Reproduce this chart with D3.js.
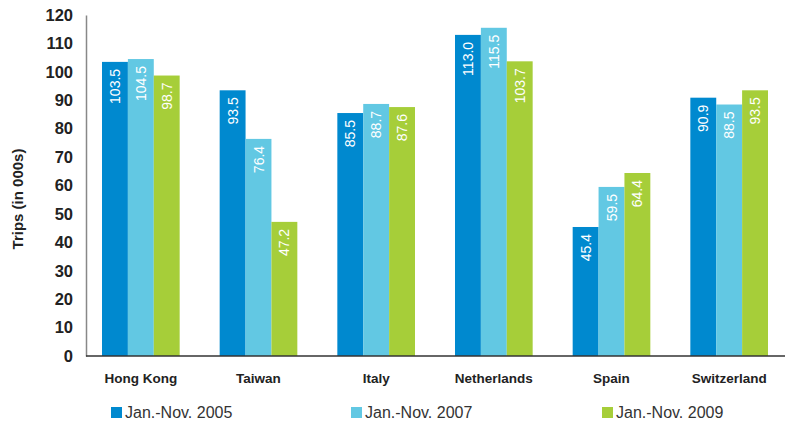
<!DOCTYPE html>
<html>
<head>
<meta charset="utf-8">
<script src="https://cdn.jsdelivr.net/npm/d3@7"></script>
<style>
  body { margin: 0; background: #fff; }
  svg { display: block; }
</style>
</head>
<body>
<div id="chart"></div>
<script>
// Data
const countries = ["Hong Kong", "Taiwan", "Italy", "Netherlands", "Spain", "Switzerland"];
const seriesNames = ["Jan.-Nov. 2005", "Jan.-Nov. 2007", "Jan.-Nov. 2009"];
const values2005 = [103.5, 93.5, 85.5, 113.0, 45.4, 90.9];
const values2007 = [104.5, 76.4, 88.7, 115.5, 59.5, 88.5];
const values2009 = [98.7, 47.2, 87.6, 103.7, 64.4, 93.5];
const yTicks = [0, 10, 20, 30, 40, 50, 60, 70, 80, 90, 100, 110, 120];

const colors = ["#0089cf", "#62c8e3", "#a6ce39"];
const allSeries = [values2005, values2007, values2009];

const width = 785, height = 425;
const FONT = "'Liberation Sans', Arial, Helvetica, sans-serif";

const svg = d3.select("#chart").append("svg")
    .attr("width", width)
    .attr("height", height);

// Scales
const x0 = d3.scaleBand().domain(countries).range([82, 788])
    .paddingInner(0.34).paddingOuter(0.17);
const x1 = d3.scaleBand().domain(d3.range(seriesNames.length)).range([0, x0.bandwidth()]);
const y = d3.scaleLinear().domain([0, 120]).range([356, 15]);

// Y axis (no ticks, labels only)
const yAxis = d3.axisLeft(y).tickValues(yTicks).tickSize(0).tickPadding(13);
const yG = svg.append("g").attr("transform", "translate(86,0)").call(yAxis);
yG.select(".domain").attr("stroke", "#888").attr("stroke-width", 1.5);
yG.selectAll("text")
    .attr("font-family", FONT)
    .attr("font-size", 16.5)
    .attr("font-weight", "bold")
    .attr("fill", "#222");

// Bars
const groups = svg.append("g").selectAll("g")
    .data(countries)
    .join("g")
    .attr("transform", d => `translate(${x0(d)},0)`);

groups.each(function (c, ci) {
    const g = d3.select(this);
    allSeries.forEach((vals, si) => {
        const v = vals[ci];
        g.append("rect")
            .attr("x", x1(si))
            .attr("y", y(v))
            .attr("width", x1.bandwidth())
            .attr("height", y(0) - y(v))
            .attr("fill", colors[si]);
        const cx = x1(si) + x1.bandwidth() / 2;
        const ty = y(v) + 7;
        g.append("text")
            .attr("transform", `translate(${cx + 5},${ty}) rotate(-90)`)
            .attr("text-anchor", "end")
            .attr("font-family", FONT)
            .attr("font-size", 14)
            .attr("fill", "#fff")
            .text(v.toFixed(1));
    });
});

// X axis baseline
svg.append("line")
    .attr("x1", 86).attr("x2", 785)
    .attr("y1", y(0)).attr("y2", y(0))
    .attr("stroke", "#333").attr("stroke-width", 1.5);

// Category labels
svg.append("g").selectAll("text")
    .data(countries)
    .join("text")
    .attr("x", d => x0(d) + x0.bandwidth() / 2)
    .attr("y", 383)
    .attr("text-anchor", "middle")
    .attr("font-family", FONT)
    .attr("font-size", 13.5)
    .attr("font-weight", "bold")
    .attr("fill", "#222")
    .text(d => d);

// Y axis title
svg.append("text")
    .attr("transform", "translate(23,199) rotate(-90)")
    .attr("text-anchor", "middle")
    .attr("font-family", FONT)
    .attr("font-size", 15)
    .attr("font-weight", "bold")
    .attr("fill", "#222")
    .text("Trips (in 000s)");

// Legend
const legendX = [111, 351, 602];
const legend = svg.append("g").selectAll("g")
    .data(seriesNames)
    .join("g")
    .attr("transform", (d, i) => `translate(${legendX[i]},407)`);
legend.append("rect")
    .attr("width", 11).attr("height", 11)
    .attr("fill", (d, i) => colors[i]);
legend.append("text")
    .attr("x", 14).attr("y", 11)
    .attr("font-family", FONT)
    .attr("font-size", 16)
    .attr("fill", "#333")
    .text(d => d);
</script>
</body>
</html>
